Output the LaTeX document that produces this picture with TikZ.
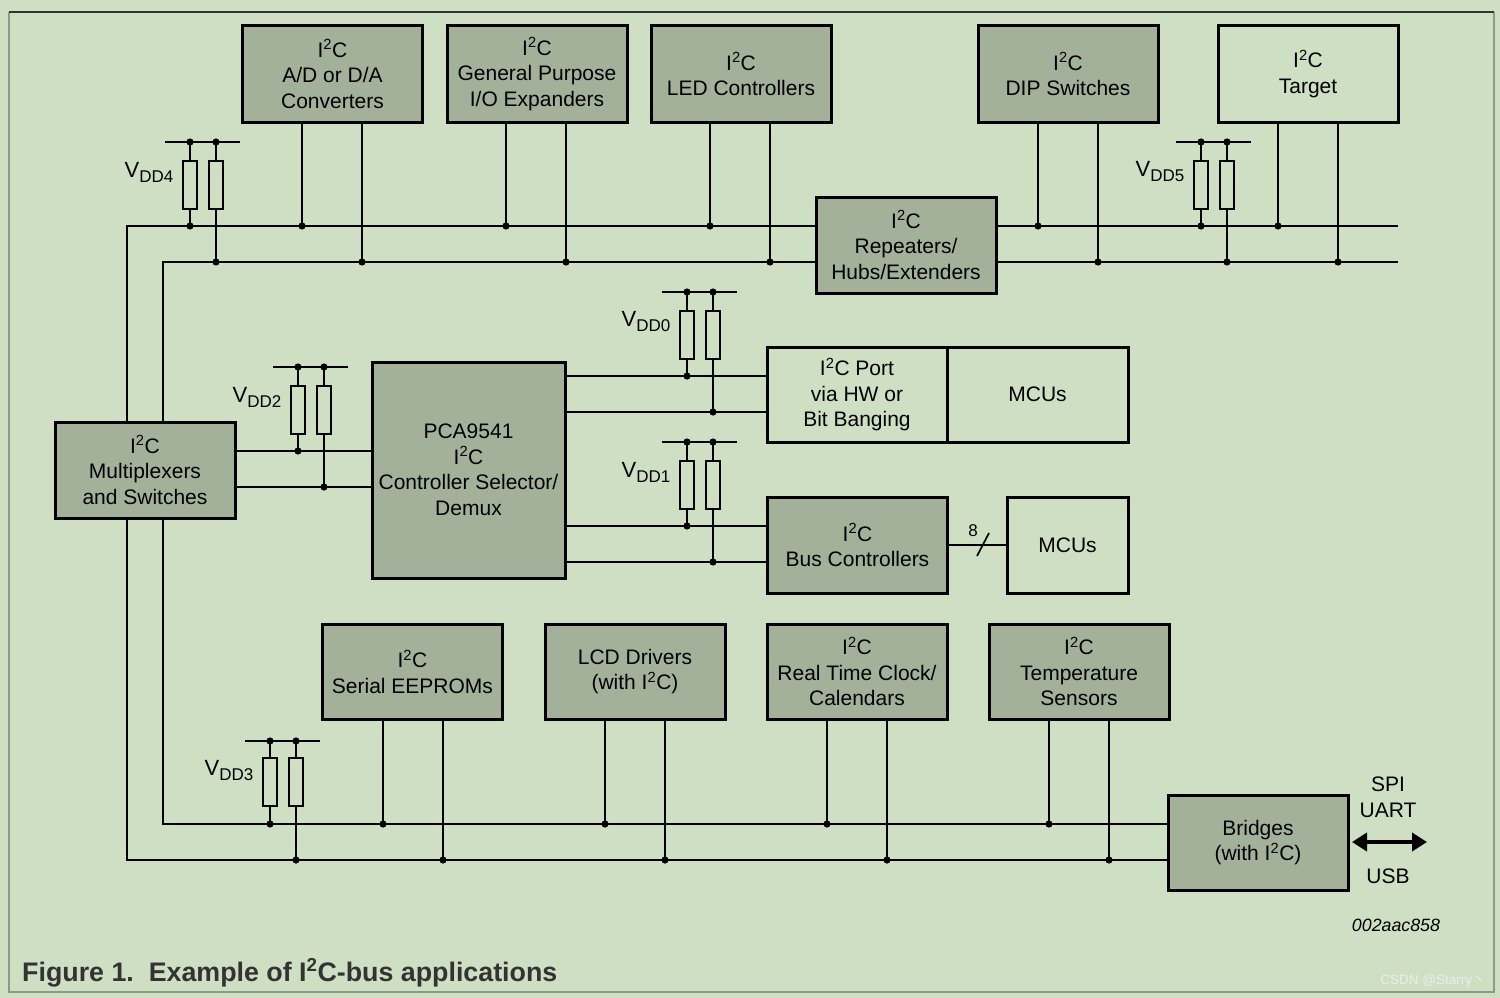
\documentclass[tikz,border=0pt]{standalone}
\usepackage{fontspec}
\setmainfont{Liberation Sans}
\newfontfamily\cjkf{Noto Sans CJK SC}
\usetikzlibrary{arrows.meta}
\definecolor{bg}{RGB}{207,223,196}
\definecolor{boxg}{RGB}{163,176,154}
\definecolor{capc}{RGB}{51,51,51}
\definecolor{framel}{RGB}{140,154,136}
\definecolor{wmc}{RGB}{236,238,236}
\newcommand{\iic}{I\textsuperscript{2}C}
\newcommand{\vdd}[1]{{\fontsize{22}{22}\selectfont V}\raisebox{-5pt}{\fontsize{17}{17}\selectfont DD#1}}
\begin{document}
\begin{tikzpicture}[x=1pt,y=-1pt,
 box/.style={draw,line width=3pt,fill=boxg,align=center,inner sep=0pt,minimum width=180pt,minimum height=96pt,font={\fontsize{21}{25.5}\selectfont}},
 wbox/.style={box,fill=bg},
 wire/.style={line width=1.7pt},
 res/.style={draw,line width=1.6pt,fill=bg,minimum width=14pt,minimum height=48pt,inner sep=0pt},
 lbl/.style={inner sep=0pt,font={\fontsize{21}{25}\selectfont}}
]
\useasboundingbox (0,0) rectangle (1500,998);
\fill[bg] (0,0) rectangle (1500,998);
\draw[framel,line width=1.5pt] (9,12) -- (9,992) -- (1494,992) -- (1494,12);
\draw[capc,line width=1.5pt] (9,12) -- (1494,12);

% top devices
\node[box] (adc) at (332.5,74) {\iic\\A/D or D/A\\Converters};
\node[box] (gpio) at (537,74) {\iic\\General Purpose\\I/O Expanders};
\node[box] (led) at (741,74) {\iic\\LED Controllers};
\node[box] (dip) at (1068,74) {\iic\\DIP Switches};
\node[wbox] (target) at (1308,74) {\iic\\Target};
\node[box] (rep) at (906,245) {\iic\\Repeaters/\\Hubs/Extenders};
\node[box] (mux) at (145,470) {\iic\\Multiplexers\\and Switches};
\node[box,minimum width=193pt,minimum height=216pt] (pca) at (468.5,470) {PCA9541\\\iic\\Controller Selector/\\Demux};
\node[wbox,minimum height=95pt] (port) at (857,394.5) {\iic\ Port\\via HW or\\Bit Banging};
\node[wbox,minimum width=181pt,minimum height=95pt] (mcu1) at (1037.5,394.5) {MCUs};
\node[box] (busc) at (857.5,545) {\iic\\Bus Controllers};
\node[wbox,minimum width=121pt] (mcu2) at (1067.5,545) {MCUs};
\node[box,minimum height=95pt] (eep) at (412.5,671.5) {\iic\\Serial EEPROMs};
\node[box,minimum height=95pt] (lcd) at (635,671.5) {LCD Drivers\\(with \iic)};
\node[box,minimum height=95pt] (rtc) at (857,671.5) {\iic\\Real Time Clock/\\Calendars};
\node[box,minimum height=95pt] (temp) at (1079,671.5) {\iic\\Temperature\\Sensors};
\node[box,minimum height=95pt] (bridge) at (1258,842.5) {Bridges\\(with \iic)};

% buses
\coordinate (sdaL) at (127,226); \coordinate (sdaR) at (1398,226);
\coordinate (sclL) at (163,262); \coordinate (sclR) at (1398,262);
\coordinate (sdaB) at (127,860); \coordinate (sclB) at (163,824);
\draw[wire] (mux.north -| sdaL) -- (sdaL) -- (sdaL -| rep.west);
\draw[wire] (sdaL -| rep.east) -- (sdaR);
\draw[wire] (mux.north -| sclL) -- (sclL) -- (sclL -| rep.west);
\draw[wire] (sclL -| rep.east) -- (sclR);
\draw[wire] (mux.south -| sdaB) -- (sdaB) -- (sdaB -| bridge.west);
\draw[wire] (mux.south -| sclB) -- (sclB) -- (sclB -| bridge.west);

% taps
\foreach \n/\x/\y in {adc/302/226, adc/362/262, gpio/506/226, gpio/566/262, led/710/226, led/770/262,
  dip/1038/226, dip/1098/262, target/1278/226, target/1338/262,
  eep/383/824, eep/443/860, lcd/605/824, lcd/665/860, rtc/827/824, rtc/887/860, temp/1049/824, temp/1109/860}{
  \coordinate (t) at (\x,\y);
  \draw[wire] (\n.south -| t) -- (t);
  \fill (t) circle[radius=3.6pt];
}

% pull-up resistor pairs
\foreach \nm/\xa/\xb/\yt/\yr/\ya/\yb in {vdd4/190/216/142/185/226/262, vdd5/1201/1227/142/185/226/262,
  vdd2/298/324/367/410/451/487, vdd0/687/713/292/335/376/412, vdd1/687/713/442/485/526/562,
  vdd3/270/296/741/782/824/860}{
  \coordinate (\nm ta) at (\xa,\yt); \coordinate (\nm tb) at (\xb,\yt);
  \coordinate (\nm a) at (\xa,\ya); \coordinate (\nm b) at (\xb,\yb);
  \coordinate (\nm l) at ({\xa-25},\yt); \coordinate (\nm r) at ({\xb+24},\yt);
  \draw[wire] (\nm l) -- (\nm r);
  \node[res] (\nm ra) at (\xa,\yr) {};
  \node[res] (\nm rb) at (\xb,\yr) {};
  \draw[wire] (\nm ta) -- (\nm ra.north);
  \draw[wire] (\nm tb) -- (\nm rb.north);
  \draw[wire] (\nm ra.south) -- (\nm a);
  \draw[wire] (\nm rb.south) -- (\nm b);
  \fill (\nm ta) circle[radius=3.6pt];
  \fill (\nm tb) circle[radius=3.6pt];
  \fill (\nm a) circle[radius=3.6pt];
  \fill (\nm b) circle[radius=3.6pt];
}

% point-to-point links
\draw[wire] (mux.east |- vdd2a) -- (pca.west |- vdd2a);
\draw[wire] (mux.east |- vdd2b) -- (pca.west |- vdd2b);
\draw[wire] (pca.east |- vdd0a) -- (port.west |- vdd0a);
\draw[wire] (pca.east |- vdd0b) -- (port.west |- vdd0b);
\draw[wire] (pca.east |- vdd1a) -- (busc.west |- vdd1a);
\draw[wire] (pca.east |- vdd1b) -- (busc.west |- vdd1b);
\draw[wire] (busc.east) -- (mcu2.west);
\coordinate (s1) at (977,556); \coordinate (s2) at (989,533);
\draw[wire] (s1) -- (s2);
\node[inner sep=0pt,font={\fontsize{17}{16}\selectfont}] (eight) at (973,531) {8};

% VDD labels
\node[lbl] (l4) at (149,172) {\vdd{4}};
\node[lbl] (l5) at (1160,172) {\vdd{5}};
\node[lbl] (l0) at (646,322) {\vdd{0}};
\node[lbl] (l1) at (646,472) {\vdd{1}};
\node[lbl] (l2) at (257,397) {\vdd{2}};
\node[lbl] (l3) at (229,771) {\vdd{3}};

% bridge arrow and labels
\coordinate (arL) at (1352,842); \coordinate (arR) at (1427,842);
\draw[line width=4.5pt,{Triangle[length=15pt,width=18pt]}-{Triangle[length=15pt,width=18pt]}] (arL) -- (arR);
\node[lbl] (spi) at (1388,784) {SPI};
\node[lbl] (uart) at (1388,810) {UART};
\node[lbl] (usb) at (1388,876) {USB};
\node[inner sep=0pt,font={\fontsize{17.8}{17}\selectfont\itshape}] (code) at (1396,925) {002aac858};

% caption
\node[anchor=base west,inner sep=0pt,text=capc,font={\fontsize{26.8}{26}\selectfont\bfseries}] (cap) at (22,981) {Figure 1.\ \ Example of I\textsuperscript{2}C-bus applications};
\node[inner sep=0pt,text=wmc,font={\fontsize{13.5}{13}\selectfont}] (wm) at (1433,981) {CSDN @Starry{\cjkf 丶}};
\end{tikzpicture}
\end{document}
